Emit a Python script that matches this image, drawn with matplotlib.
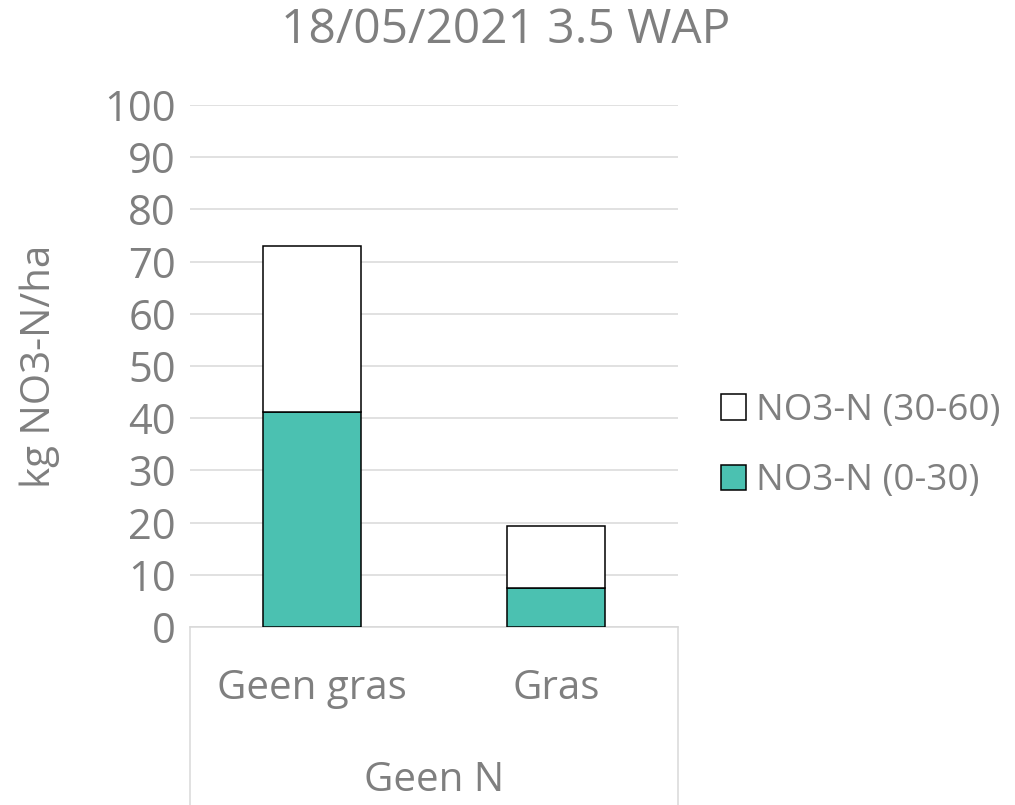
import matplotlib
matplotlib.use("Agg")
import matplotlib.pyplot as plt
from matplotlib.patches import Patch
import numpy as np

categories = ["Geen gras", "Gras"]
group_label = "Geen N"
no3_0_30 = [41.1, 7.4]
no3_30_60_total = [73.0, 19.4]
no3_30_60 = [t - b for t, b in zip(no3_30_60_total, no3_0_30)]
series_names = ["NO3-N (0-30)", "NO3-N (30-60)"]
yticks = list(range(0, 101, 10))
title = "18/05/2021 3.5 WAP"
ylabel = "kg NO3-N/ha"

TXT = "#7f7f7f"
GREEN = "#4bc1b1"
GRID = "#d9d9d9"
FONT = "Open Sans"

plt.rcParams['font.family'] = [FONT, 'DejaVu Sans']

fig = plt.figure(figsize=(10.15, 8.05), dpi=100)
ax = fig.add_axes([190/1015, 1-627/805, (678-190)/1015, (627-105)/805])

x = np.arange(len(categories))
w = 0.4
ax.bar(x, no3_0_30, w, color=GREEN, edgecolor="black", linewidth=1.1, zorder=3, label=series_names[0])
ax.bar(x, no3_30_60, w, bottom=no3_0_30, color="white", edgecolor="black", linewidth=1.1, zorder=3, label=series_names[1])

ax.set_xlim(-0.5, 1.5)
ax.set_ylim(0, 100)
ax.set_yticks(yticks)
ax.set_yticklabels([str(v) for v in yticks], fontsize=30, color=TXT)
ax.yaxis.grid(True, color=GRID, linewidth=1.1, zorder=0)
ax.set_axisbelow(True)
ax.tick_params(axis='y', length=0, pad=10)
ax.tick_params(axis='x', length=0)
ax.set_xticks([])
for s in ["left", "right", "top"]:
    ax.spines[s].set_visible(False)
ax.spines["bottom"].set_color(GRID)
ax.spines["bottom"].set_linewidth(1.1)

# category labels
for xi, c in zip(x, categories):
    ax.text(xi, -0.118, c, transform=ax.get_xaxis_transform(), ha="center", va="center",
            fontsize=29, color=TXT)
ax.text(0.5, -0.295, group_label, transform=ax.transAxes, ha="center", va="center",
        fontsize=29, color=TXT)
# box lines for multi-level category axis
for xa in [0, 1]:
    ax.plot([xa, xa], [0, -0.36], transform=ax.transAxes, color=GRID, linewidth=1.1, clip_on=False)

fig.text(506/1015, 1-30/805, title, fontsize=34.5, color=TXT, ha="center", va="center")
fig.text(40/1015, 1-366/805, ylabel, fontsize=29, color=TXT, ha="center", va="center", rotation=90)

handles = [Patch(facecolor="white", edgecolor="black", linewidth=1.1, label=series_names[1]),
           Patch(facecolor=GREEN, edgecolor="black", linewidth=1.1, label=series_names[0])]
leg = fig.legend(handles=handles, loc="center left", bbox_to_anchor=(721/1015, 1-446/805),
                 frameon=False, fontsize=26.5, labelcolor=TXT, handlelength=0.68, handleheight=0.68,
                 handletextpad=0.27, labelspacing=0.93, borderpad=0, borderaxespad=0)

fig.savefig("out.png", dpi=100)
